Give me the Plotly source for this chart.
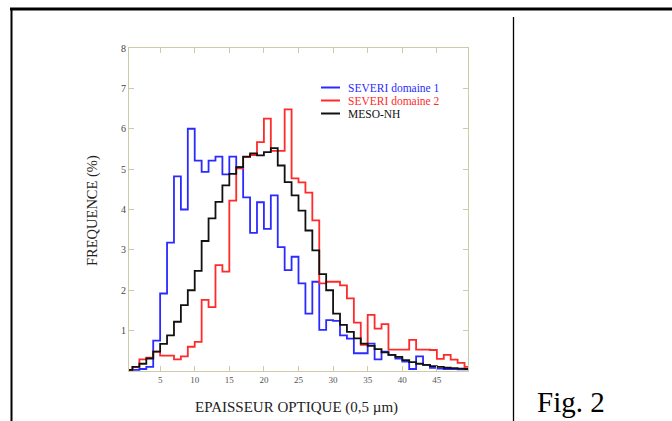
import plotly.graph_objects as go

# Bin edges (optical thickness, bins of width 1)
bin_left = list(range(0, 50))
series_names = ["SEVERI domaine 1", "SEVERI domaine 2", "MESO-NH"]
series_colors = ["#2b2bff", "#ff2a2a", "#111111"]

severi_d1 = [0.03, 0.03, 0.05, 0.10, 0.75, 1.92, 3.18, 4.82, 4.00, 6.00,
             5.21, 4.93, 5.21, 5.31, 4.87, 5.31, 5.05, 4.30, 3.42, 4.18,
             3.52, 4.35, 3.07, 2.50, 2.83, 2.17, 1.42, 2.21, 1.02, 1.26,
             1.24, 0.88, 0.80, 0.44, 0.44, 0.68, 0.29, 0.48, 0.40, 0.31,
             0.23, 0.05, 0.36, 0.15, 0.08, 0.06, 0.05, 0.05, 0.04, 0.04]

severi_d2 = [0.03, 0.10, 0.29, 0.33, 0.48, 0.38, 0.38, 0.29, 0.36, 0.60,
             0.72, 1.76, 1.58, 2.62, 2.46, 4.22, 5.02, 5.30, 5.35, 5.67,
             6.25, 5.45, 5.45, 6.48, 4.77, 4.67, 4.42, 3.73, 2.17, 2.21,
             2.21, 2.12, 1.80, 1.20, 0.65, 1.39, 1.05, 1.16, 0.53, 0.53,
             0.53, 0.77, 0.53, 0.53, 0.52, 0.30, 0.40, 0.28, 0.20, 0.10]

meso_nh = [0.03, 0.10, 0.18, 0.31, 0.48, 0.67, 0.88, 1.22, 1.63, 2.00,
           2.48, 3.22, 3.78, 4.19, 4.60, 4.88, 5.05, 5.31, 5.39, 5.34,
           5.42, 5.52, 5.09, 4.68, 4.35, 3.97, 3.48, 2.99, 2.40, 2.00,
           1.42, 1.14, 0.97, 0.81, 0.68, 0.62, 0.54, 0.46, 0.40, 0.35,
           0.27, 0.22, 0.18, 0.15, 0.12, 0.10, 0.08, 0.07, 0.06, 0.05]

x_ticks = [5, 10, 15, 20, 25, 30, 35, 40, 45]
y_ticks = [1, 2, 3, 4, 5, 6, 7, 8]

W, H = 672, 421
ML, MR, MT, MB = 129, 204, 48, 50
PW, PH = W - ML - MR, H - MT - MB


def px(x):
    return (x - ML) / PW


def py(y):
    return (H - MB - y) / PH


SERIF = "Liberation Serif, Times New Roman, serif"
FRAME = "#cfcaa8"

fig = go.Figure()
x_edges = bin_left + [bin_left[-1] + 1]
for name, col, vals in zip(series_names, series_colors,
                           [severi_d1, severi_d2, meso_nh]):
    fig.add_trace(go.Scatter(
        x=x_edges, y=vals + [vals[-1]], mode="lines", name=name,
        line=dict(color=col, width=1.8, shape="hv"), showlegend=False))

fig.update_xaxes(range=[0.5, 49.5], tickvals=x_ticks, ticks="inside",
                 ticklen=5, tickcolor=FRAME, showline=True, linecolor=FRAME,
                 linewidth=1, mirror="ticks", showgrid=False, zeroline=False,
                 tickfont=dict(family=SERIF, size=9, color="#555555"))
fig.update_yaxes(range=[0, 8], tickvals=y_ticks, ticks="inside",
                 ticklen=5, tickcolor=FRAME, showline=True, linecolor=FRAME,
                 linewidth=1, mirror="ticks", showgrid=False, zeroline=False,
                 tickfont=dict(family=SERIF, size=10, color="#444444"))

shapes = [
    dict(type="line", xref="paper", yref="paper", x0=px(10), x1=px(W + 5),
         y0=py(9), y1=py(9), line=dict(color="#000000", width=3)),
    dict(type="line", xref="paper", yref="paper", x0=px(11.5), x1=px(11.5),
         y0=py(8), y1=py(H + 5), line=dict(color="#000000", width=2)),
    dict(type="line", xref="paper", yref="paper", x0=px(513.5), x1=px(513.5),
         y0=py(17), y1=py(H + 5), line=dict(color="#000000", width=1.3)),
]
annotations = [
    dict(text="FREQUENCE (%)", xref="paper", yref="paper", x=px(92), y=py(211),
         textangle=-90, showarrow=False, xanchor="center", yanchor="middle",
         font=dict(family=SERIF, size=14.5, color="#222222")),
    dict(text="EPAISSEUR OPTIQUE (0,5 µm)", xref="paper", yref="paper",
         x=px(296), y=py(407), showarrow=False, xanchor="center",
         yanchor="middle", font=dict(family=SERIF, size=15, color="#222222")),
    dict(text="Fig. 2", xref="paper", yref="paper", x=px(535), y=py(420),
         showarrow=False, xanchor="left", yanchor="bottom",
         font=dict(family=SERIF, size=29, color="#000000")),
]
leg_y = [87.5, 100.5, 113.5]
for name, col, yy in zip(series_names, series_colors, leg_y):
    shapes.append(dict(type="line", xref="paper", yref="paper", x0=px(321),
                       x1=px(340), y0=py(yy), y1=py(yy),
                       line=dict(color=col, width=2)))
    annotations.append(dict(text=name, xref="paper", yref="paper", x=px(346),
                            y=py(yy), showarrow=False, xanchor="left",
                            yanchor="middle",
                            font=dict(family=SERIF, size=11.5, color=col)))

fig.update_layout(width=W, height=H, margin=dict(l=ML, r=MR, t=MT, b=MB),
                  paper_bgcolor="white", plot_bgcolor="white",
                  shapes=shapes, annotations=annotations, showlegend=False)

fig.write_html("out.html")
